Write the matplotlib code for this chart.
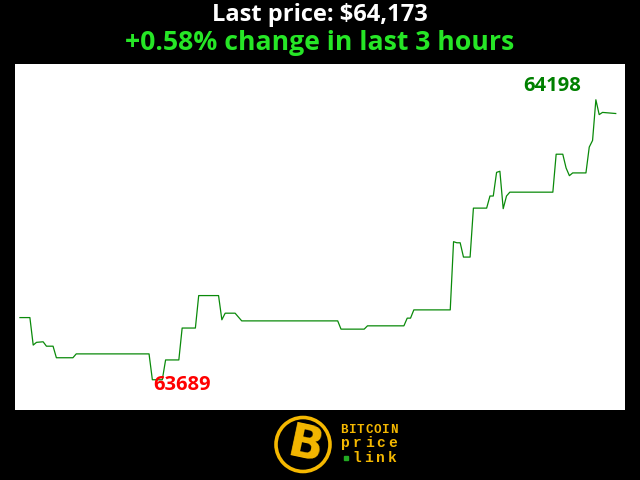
import matplotlib.pyplot as plt
from matplotlib.patches import Circle

# minutes since start (last 3 hours) and BTC price at each vertex of the line
minutes = [0, 3, 4, 5, 7, 8, 10, 11, 16, 17, 39, 40, 43, 44, 48, 49, 53, 54,
           60, 61, 62, 65, 67, 96, 97, 104, 105, 116, 117, 118, 119, 130, 131,
           132, 133, 134, 136, 137, 141, 142, 143, 144, 145, 146, 147, 148,
           161, 162, 164, 165, 166, 167, 171, 172, 173, 174, 175, 176, 180]
prices = [63802, 63802, 63752, 63757, 63758, 63750, 63750, 63729, 63729, 63736,
          63736, 63689, 63689, 63725, 63725, 63783, 63783, 63842, 63842, 63798,
          63810, 63810, 63796, 63796, 63781, 63781, 63787, 63787, 63801, 63801,
          63816, 63816, 63940, 63938, 63938, 63912, 63912, 64001, 64001, 64023,
          64023, 64066, 64068, 64000, 64023, 64030, 64030, 64099, 64099, 64074,
          64060, 64065, 64065, 64112, 64124, 64198, 64171, 64175, 64173]

last_price = 64173
pct_change = 0.58
hi_price = 64198
lo_price = 63689

fig = plt.figure(figsize=(6.4, 4.8), dpi=100, facecolor='black')

fig.text(0.5, 1 - 15/480, f'Last price: ${last_price:,}', color='white',
         fontsize=17, fontweight='bold', family='Open Sans', ha='center', va='center')
fig.text(0.5, 1 - 43/480, f'+{pct_change}% change in last 3 hours', color='#26e626',
         fontsize=19.2, fontweight='bold', family='Open Sans', ha='center', va='center')

ax = fig.add_axes([15/640, 70/480, 610/640, 346/480])
ax.set_facecolor('white')
ax.plot(minutes, prices, color='#0a8a0a', linewidth=0.9)
ax.set_xlim(-1.5, 182.8)
ax.set_ylim(63634, 64263)
ax.set_xticks([])
ax.set_yticks([])
for s in ax.spines.values():
    s.set_visible(False)

i_hi = prices.index(hi_price)
i_lo = prices.index(lo_price)
ax.annotate(str(hi_price), (minutes[i_hi], hi_price), xytext=(-31.5, 10),
            textcoords='offset points', color='#008000', fontsize=14.5,
            fontweight='bold', family='Open Sans', ha='center', va='center')
ax.annotate(str(lo_price), (minutes[i_lo], lo_price), xytext=(21.5, -4),
            textcoords='offset points', color='red', fontsize=14.5,
            fontweight='bold', family='Open Sans', ha='center', va='center')

# logo at the bottom
logo = fig.add_axes([0, 0, 1, 70/480])
logo.set_xlim(0, 640)
logo.set_ylim(480, 410)
logo.axis('off')
orange = '#f5b800'
logo.add_patch(Circle((303, 444.5), 27, facecolor='black', edgecolor=orange, linewidth=2.6))
logo.text(305, 446, 'B', color=orange, fontsize=33, fontweight='bold',
          family='DejaVu Sans', ha='center', va='center', rotation=-12)


def spaced(word, x0, x1, y, size):
    cell = (x1 - x0) / len(word)
    for i, ch in enumerate(word):
        logo.text(x0 + cell * (i + 0.5), y, ch, color=orange, fontsize=size,
                  fontweight='bold', family='Liberation Mono', ha='center', va='center')


spaced('BITCOIN', 340, 398, 430, 9)
spaced('price', 340, 398, 443, 10.5)
spaced('link', 351.5, 398, 457.5, 10.5)
logo.plot([346], [457.5], 's', color='#22aa22', markersize=2.5)

fig.savefig('out.png', dpi=100, facecolor='black')
